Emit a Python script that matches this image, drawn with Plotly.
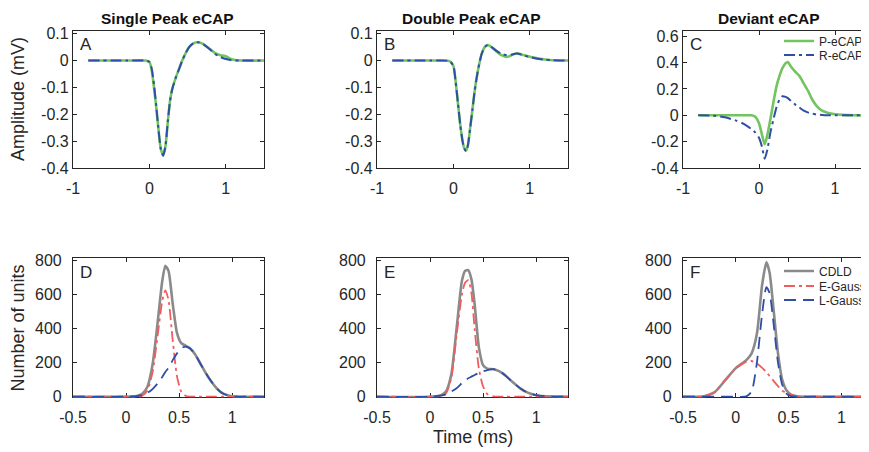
import plotly.graph_objects as go

# ---------------- data ----------------
# Top row: eCAP waveforms (time in ms, amplitude in mV)
t_A = [-0.8, -0.3, -0.05, 0.0, 0.03, 0.06, 0.09, 0.12, 0.15, 0.18, 0.21, 0.24, 0.27, 0.3,
       0.35, 0.39, 0.43, 0.47, 0.52, 0.58, 0.64, 0.7, 0.78, 0.86, 0.93, 1.0, 1.06, 1.12, 1.2, 1.5]
p_ecap_A = [0, 0, 0, -0.005, -0.035, -0.1, -0.175, -0.26, -0.33, -0.35, -0.32, -0.23, -0.15, -0.105,
            -0.06, -0.03, 0.0, 0.025, 0.05, 0.065, 0.068, 0.062, 0.045, 0.028, 0.02, 0.016, 0.007, 0.002, 0, 0]
r_ecap_A = [0, 0, 0, -0.005, -0.03, -0.09, -0.17, -0.26, -0.33, -0.355, -0.32, -0.23, -0.15, -0.105,
            -0.06, -0.03, 0.0, 0.025, 0.05, 0.065, 0.068, 0.062, 0.045, 0.025, 0.013, 0.006, 0.002, 0.0, 0, 0]

t_B = [-0.8, -0.3, -0.05, 0.0, 0.03, 0.06, 0.09, 0.12, 0.14, 0.165, 0.19, 0.22, 0.25, 0.28, 0.31,
       0.34, 0.37, 0.41, 0.45, 0.5, 0.56, 0.63, 0.7, 0.76, 0.83, 0.9, 1.0, 1.1, 1.2, 1.3, 1.5]
p_ecap_B = [0, 0, -0.002, -0.02, -0.08, -0.16, -0.24, -0.3, -0.325, -0.335, -0.315, -0.25, -0.18, -0.11,
            -0.055, -0.01, 0.025, 0.05, 0.058, 0.05, 0.035, 0.02, 0.013, 0.02, 0.027, 0.022, 0.014, 0.008,
            0.004, 0.001, 0]
r_ecap_B = [0, 0, -0.002, -0.02, -0.08, -0.16, -0.24, -0.3, -0.325, -0.338, -0.315, -0.25, -0.18, -0.11,
            -0.055, -0.01, 0.025, 0.05, 0.058, 0.05, 0.037, 0.025, 0.02, 0.022, 0.026, 0.021, 0.013, 0.007,
            0.003, 0.001, 0]

t_C = [-0.8, -0.6, -0.45, -0.3, -0.2, -0.1, -0.05, 0.0, 0.04, 0.075, 0.11, 0.15, 0.19, 0.23, 0.27,
       0.31, 0.35, 0.38, 0.42, 0.47, 0.53, 0.59, 0.65, 0.7, 0.76, 0.83, 0.9, 1.0, 1.1, 1.25, 1.5]
p_ecap_C = [0, 0, 0, 0, 0, 0, -0.01, -0.06, -0.15, -0.22, -0.15, -0.03, 0.1, 0.22, 0.3,
            0.36, 0.395, 0.405, 0.37, 0.335, 0.3, 0.24, 0.18, 0.12, 0.07, 0.035, 0.02, 0.008, 0.003, 0, 0]
r_ecap_C = [0, -0.003, -0.015, -0.04, -0.065, -0.105, -0.13, -0.17, -0.24, -0.33, -0.26, -0.13, -0.03,
            0.06, 0.12, 0.145, 0.14, 0.13, 0.11, 0.085, 0.06, 0.035, 0.02, 0.012, 0.006, 0.003, 0.001,
            0, 0, 0, 0]

# Bottom row: conduction delay distributions (number of units)
t_D = [-0.5, 0.0, 0.1, 0.15, 0.2, 0.25, 0.3, 0.34, 0.37, 0.4, 0.44, 0.48, 0.52, 0.56, 0.6, 0.65,
       0.7, 0.75, 0.8, 0.85, 0.9, 0.95, 1.0, 1.1, 1.3]
cdld_D = [0, 0, 4, 15, 57, 190, 450, 675, 770, 740, 545, 375, 315, 301, 286, 250,
          195, 140, 92, 52, 24, 10, 3, 0, 0]
egauss_D = [0, 0, 0, 5, 35, 145, 370, 560, 625, 570, 330, 120, 30, 6, 1, 0,
            0, 0, 0, 0, 0, 0, 0, 0, 0]
lgauss_D = [0, 0, 4, 10, 22, 45, 80, 115, 145, 170, 215, 255, 285, 295, 285, 250,
            195, 140, 92, 52, 24, 10, 3, 0, 0]

t_E = [-0.5, 0.0, 0.1, 0.15, 0.2, 0.25, 0.3, 0.33, 0.36, 0.39, 0.42, 0.46, 0.5, 0.54, 0.6, 0.65,
       0.7, 0.75, 0.8, 0.85, 0.9, 0.95, 1.0, 1.1, 1.3]
cdld_E = [0, 0, 8, 30, 130, 400, 680, 740, 745, 690, 545, 290, 185, 165, 162, 150,
          130, 102, 75, 49, 30, 18, 9, 2, 0]
egauss_E = [0, 0, 3, 20, 110, 360, 600, 670, 685, 610, 400, 165, 60, 15, 2, 0,
            0, 0, 0, 0, 0, 0, 0, 0, 0]
lgauss_E = [0, 0, 6, 14, 30, 50, 80, 95, 108, 118, 128, 140, 150, 157, 162, 150,
            130, 102, 75, 49, 30, 18, 9, 2, 0]

t_F = [-0.5, -0.35, -0.3, -0.2, -0.1, 0.0, 0.1, 0.15, 0.2, 0.25, 0.29, 0.32, 0.36, 0.4, 0.44,
       0.48, 0.52, 0.56, 0.6, 0.7, 1.3]
cdld_F = [0, 0, 3, 27, 97, 168, 215, 255, 370, 660, 790, 730, 500, 255, 100,
          38, 14, 5, 1, 0, 0]
egauss_F = [0, 0, 3, 27, 97, 168, 205, 210, 195, 170, 145, 122, 92, 62, 36,
            22, 12, 5, 2, 0, 0]
lgauss_F = [0, 0, 0, 0, 0, 0, 2, 30, 200, 490, 645, 610, 420, 200, 70,
            18, 4, 1, 0, 0, 0]

col_titles = ["Single Peak eCAP", "Double Peak eCAP", "Deviant eCAP"]
panel_letters = ["A", "B", "C", "D", "E", "F"]

top_x_ticks = [-1, 0, 1]
top_x_text = ["-1", "0", "1"]
ab_y_ticks = [-0.4, -0.3, -0.2, -0.1, 0, 0.1]
ab_y_text = ["-0.4", "-0.3", "-0.2", "-0.1", "0", "0.1"]
c_y_ticks = [-0.4, -0.2, 0, 0.2, 0.4, 0.6]
c_y_text = ["-0.4", "-0.2", "0", "0.2", "0.4", "0.6"]
bot_x_ticks = [-0.5, 0, 0.5, 1]
bot_x_text = ["-0.5", "0", "0.5", "1"]
bot_y_ticks = [0, 200, 400, 600, 800]
bot_y_text = ["0", "200", "400", "600", "800"]

# ---------------- style ----------------
W, H = 869, 452
OFF = 8  # page body margin: screen = figure + 8px
FONT = "Arial, Liberation Sans, Helvetica, sans-serif"
TXT = "#262626"
GREEN = "#72c55e"
BLUE = "#2f4fa6"
RED = "#f25c5c"
GRAY = "#8a8a8a"

def px(x):
    return (x - OFF) / W

def py(y):
    return 1 - (y - OFF) / H

# column pixel extents (screen pixels)
cols = [(73, 264), (377, 568), (683, 873)]
top_rows = (31, 168)
bot_rows = (258.3, 397.4)

fig = go.Figure()

def add(xa, ya, x, y, name, color, width, dash, legend=None, show=False):
    fig.add_trace(go.Scatter(
        x=x, y=y, mode="lines", name=name,
        line=dict(color=color, width=width, dash=dash, shape="spline", smoothing=0.6),
        xaxis=xa, yaxis=ya, showlegend=show, legend=legend, hoverinfo="skip"))

DASHDOT = "11px,4px,3px,4px"
DASH = "12px,7px"

# top row
add("x", "y", t_A, p_ecap_A, "P-eCAP", GREEN, 2.6, "solid")
add("x", "y", t_A, r_ecap_A, "R-eCAP", BLUE, 2.0, DASHDOT)
add("x2", "y2", t_B, p_ecap_B, "P-eCAP", GREEN, 2.6, "solid")
add("x2", "y2", t_B, r_ecap_B, "R-eCAP", BLUE, 2.0, DASHDOT)
add("x3", "y3", t_C, p_ecap_C, "P-eCAP", GREEN, 2.6, "solid", "legend", True)
add("x3", "y3", t_C, r_ecap_C, "R-eCAP", BLUE, 2.0, DASHDOT, "legend2", True)
# bottom row
add("x4", "y4", t_D, cdld_D, "CDLD", GRAY, 2.6, "solid")
add("x4", "y4", t_D, egauss_D, "E-Gauss", RED, 1.8, DASHDOT)
add("x4", "y4", t_D, lgauss_D, "L-Gauss", BLUE, 1.8, DASH)
add("x5", "y5", t_E, cdld_E, "CDLD", GRAY, 2.6, "solid")
add("x5", "y5", t_E, egauss_E, "E-Gauss", RED, 1.8, DASHDOT)
add("x5", "y5", t_E, lgauss_E, "L-Gauss", BLUE, 1.8, DASH)
add("x6", "y6", t_F, cdld_F, "CDLD", GRAY, 2.6, "solid", "legend3", True)
add("x6", "y6", t_F, egauss_F, "E-Gauss", RED, 1.8, DASHDOT, "legend4", True)
add("x6", "y6", t_F, lgauss_F, "L-Gauss", BLUE, 1.8, DASH, "legend5", True)

tickfont = dict(family=FONT, size=16, color=TXT)

def axis_common():
    return dict(showline=True, linecolor=TXT, linewidth=1.2,
                mirror="ticks", ticks="inside", ticklen=4,
                tickwidth=1, tickcolor=TXT, showgrid=False, zeroline=False,
                tickfont=tickfont, layer="below traces", fixedrange=True,
                automargin=False)

layout = {}
xranges_top = [[-1, 1.5], [-1, 1.5], [-1, 1.5]]
xranges_bot = [[-0.5, 1.3], [-0.5, 1.3], [-0.5, 1.3]]
yranges_top = [[-0.4, 0.11], [-0.4, 0.11], [-0.4, 0.64]]
for i in range(3):
    xd = [px(cols[i][0]), px(cols[i][1])]
    n = i + 1
    sx = "" if n == 1 else str(n)
    layout["xaxis" + sx] = dict(domain=xd, range=xranges_top[i], anchor="y" + sx,
                                tickvals=top_x_ticks, ticktext=top_x_text,
                                ticklabelstandoff=6, **axis_common())
    yt = ab_y_ticks if i < 2 else c_y_ticks
    ytx = ab_y_text if i < 2 else c_y_text
    layout["yaxis" + sx] = dict(domain=[py(top_rows[1]), py(top_rows[0])], range=yranges_top[i],
                                anchor="x" + sx, tickvals=yt, ticktext=ytx,
                                ticklabelstandoff=0, **axis_common())
    n2 = i + 4
    s2 = str(n2)
    layout["xaxis" + s2] = dict(domain=xd, range=xranges_bot[i], anchor="y" + s2,
                                tickvals=bot_x_ticks, ticktext=bot_x_text,
                                ticklabelstandoff=5, **axis_common())
    layout["yaxis" + s2] = dict(domain=[py(bot_rows[1]), py(bot_rows[0])], range=[-4, 814],
                                anchor="x" + s2, tickvals=bot_y_ticks, ticktext=bot_y_text,
                                ticklabelstandoff=7, **axis_common())

ann = []
title_x = [167, 471.5, 768.5]
for i, t in enumerate(col_titles):
    ann.append(dict(text="<b>%s</b>" % t, x=px(title_x[i]), y=py(18), xref="paper", yref="paper",
                    xanchor="center", yanchor="middle", showarrow=False,
                    font=dict(family=FONT, size=15.5, color="#111111")))
letter_pos = [(cols[0][0], 44), (cols[1][0], 44), (cols[2][0], 44),
              (cols[0][0], 272.5), (cols[1][0], 272.5), (cols[2][0], 272.5)]
for L, (lx, ly) in zip(panel_letters, letter_pos):
    ann.append(dict(text=L, x=px(lx + 5), y=py(ly), xref="paper", yref="paper",
                    xanchor="left", yanchor="middle", showarrow=False,
                    font=dict(family=FONT, size=17, color=TXT)))
ann.append(dict(text="Amplitude (mV)", x=px(17.5), y=py(99.5), xref="paper", yref="paper",
                textangle=-90, xanchor="center", yanchor="middle", showarrow=False,
                font=dict(family=FONT, size=18, color=TXT)))
ann.append(dict(text="Number of units", x=px(17.5), y=py(328), xref="paper", yref="paper",
                textangle=-90, xanchor="center", yanchor="middle", showarrow=False,
                font=dict(family=FONT, size=18, color=TXT)))
ann.append(dict(text="Time (ms)", x=px(472.5), y=py(437), xref="paper", yref="paper",
                xanchor="center", yanchor="middle", showarrow=False,
                font=dict(family=FONT, size=18, color=TXT)))

def leg(xs, ys):
    return dict(x=(xs - OFF) / W, y=1 - (ys - OFF) / H, xref="container", yref="container",
                xanchor="left", yanchor="middle", bgcolor="rgba(0,0,0,0)",
                borderwidth=0, font=dict(family=FONT, size=12, color=TXT), itemwidth=30,
                tracegroupgap=0)

fig.update_layout(
    width=W, height=H, margin=dict(l=0, r=0, t=0, b=0, autoexpand=False),
    paper_bgcolor="white", plot_bgcolor="white",
    font=dict(family=FONT, color=TXT),
    annotations=ann,
    legend=leg(779, 41), legend2=leg(779, 55),
    legend3=leg(779, 271), legend4=leg(779, 286), legend5=leg(779, 300),
    **layout)

fig.write_html("out.html")
